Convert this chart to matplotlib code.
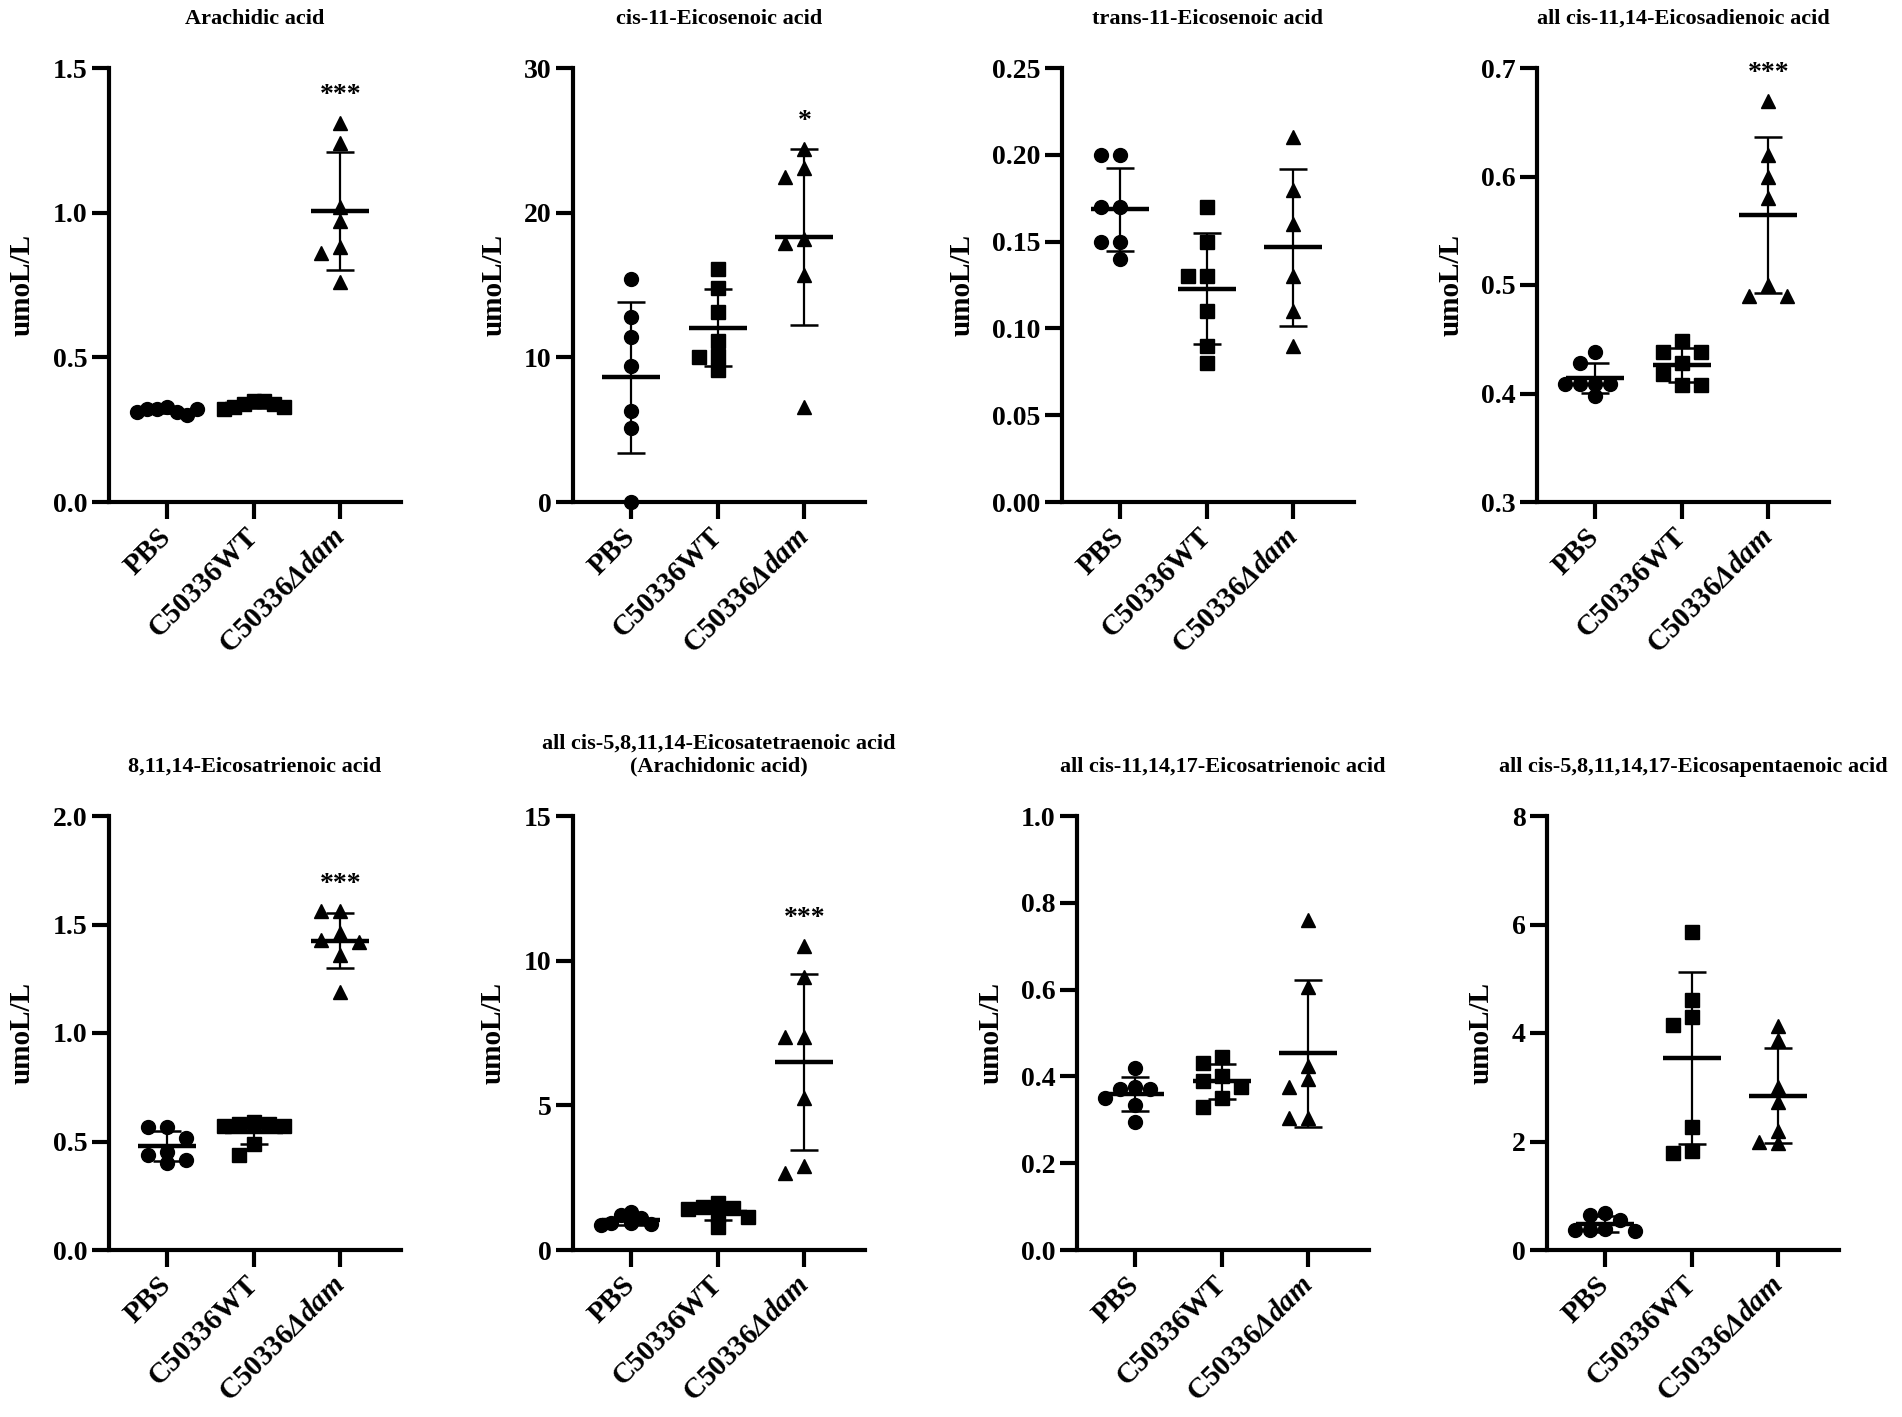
import numpy as np
import matplotlib
matplotlib.use('Agg')
import matplotlib.pyplot as plt
from matplotlib.ticker import FormatStrFormatter

plt.rcParams['font.family'] = ['Liberation Serif', 'DejaVu Serif']
plt.rcParams['font.weight'] = 'bold'
plt.rcParams['axes.labelweight'] = 'bold'
plt.rcParams['mathtext.fontset'] = 'custom'
plt.rcParams['mathtext.rm'] = 'Liberation Serif:bold'
plt.rcParams['mathtext.bfit'] = 'Liberation Serif:italic:bold'

# ── data (umol/L): (PBS, C50336WT, C50336Δdam) ──
groups = ['PBS', 'C50336WT', r'C50336$\mathbfit{Δdam}$']

arachidic = ([0.33, 0.32, 0.31, 0.32, 0.30, 0.31, 0.32],
             [0.35, 0.34, 0.35, 0.33, 0.34, 0.32, 0.33],
             [1.31, 1.24, 1.02, 0.97, 0.88, 0.86, 0.76])
eicosenoic_cis = ([15.4, 12.8, 11.4, 9.4, 6.3, 5.1, 0.0],
                  [16.1, 14.8, 13.1, 11.1, 10.1, 10.0, 9.15],
                  [24.4, 23.1, 22.5, 18.2, 17.9, 15.7, 6.6])
eicosenoic_trans = ([0.20, 0.20, 0.17, 0.17, 0.15, 0.15, 0.14],
                    [0.17, 0.15, 0.13, 0.13, 0.11, 0.09, 0.08],
                    [0.21, 0.18, 0.16, 0.13, 0.11, 0.09])
eicosadienoic = ([0.438, 0.428, 0.409, 0.409, 0.409, 0.409, 0.398],
                 [0.448, 0.438, 0.438, 0.428, 0.418, 0.408, 0.408],
                 [0.67, 0.62, 0.60, 0.58, 0.50, 0.49, 0.49])
eicosatrienoic_8 = ([0.565, 0.565, 0.515, 0.453, 0.438, 0.415, 0.402],
                    [0.59, 0.58, 0.58, 0.57, 0.57, 0.49, 0.44],
                    [1.56, 1.56, 1.46, 1.43, 1.42, 1.36, 1.19])
arachidonic = ([1.32, 1.2, 1.1, 0.95, 0.92, 0.9, 0.88],
               [1.61, 1.50, 1.45, 1.40, 1.20, 1.15, 0.81],
               [10.5, 9.45, 7.35, 7.35, 5.25, 2.9, 2.65])
eicosatrienoic_11 = ([0.42, 0.375, 0.37, 0.37, 0.35, 0.335, 0.295],
                     [0.445, 0.43, 0.40, 0.39, 0.375, 0.35, 0.33],
                     [0.76, 0.605, 0.425, 0.395, 0.375, 0.305, 0.305])
epa = ([0.68, 0.65, 0.55, 0.38, 0.37, 0.36, 0.35],
       [5.87, 4.61, 4.29, 4.15, 2.27, 1.83, 1.79],
       [4.13, 3.88, 3.0, 2.73, 2.2, 2.0, 1.97])

panels = [arachidic, eicosenoic_cis, eicosenoic_trans, eicosadienoic,
          eicosatrienoic_8, arachidonic, eicosatrienoic_11, epa]
titles = ['Arachidic acid',
          'cis-11-Eicosenoic acid',
          'trans-11-Eicosenoic acid',
          'all cis-11,14-Eicosadienoic acid',
          '8,11,14-Eicosatrienoic acid',
          'all cis-5,8,11,14-Eicosatetraenoic acid\n(Arachidonic acid)',
          'all cis-11,14,17-Eicosatrienoic acid',
          'all cis-5,8,11,14,17-Eicosapentaenoic acid']
stars = ['***', '*', '', '***', '***', '***', '', '']
y_lims = [(0, 1.5), (0, 30), (0, 0.25), (0.3, 0.7),
          (0, 2.0), (0, 15), (0, 1.0), (0, 8)]
y_steps = [0.5, 10, 0.05, 0.1, 0.5, 5, 0.2, 2]
y_fmts = ['%.1f', '%d', '%.2f', '%.1f', '%.1f', '%d', '%.1f', '%d']

markers = ['o', 's', '^']
marker_sizes = [10, 9.5, 10.5]

# axes placement in pixels (left edge of y spine)
W, H = 1902, 1417
lefts = [109, 573, 1062, 1537, 109, 573, 1077, 1547]
ax_w = 292
row_top = [68, 816]
ax_h = 434

fig = plt.figure(figsize=(W / 100, H / 100), dpi=100)


def swarm(vals, px_per_unit_y, px_per_unit_x, diam=11, step=19, max_px=30):
    # column scatter: shift points sideways when they overlap,
    # squeeze the spread if it gets wider than the column
    placed = []
    for v in vals:
        for k in [0, -1, 1, -2, 2, -3, 3]:
            dx = k * step
            ok = True
            for (px, pv) in placed:
                if abs(dx - px) < step * 0.9 and abs(v - pv) * px_per_unit_y < diam:
                    ok = False
                    break
            if ok:
                break
        placed.append((dx, v))
    offs = np.array([p[0] for p in placed], dtype=float)
    widest = np.abs(offs).max()
    if widest > max_px:
        offs *= max_px / widest
    return offs / px_per_unit_x


xlim = (0.33, 3.7)
for i, data in enumerate(panels):
    row = i // 4
    top = row_top[row]
    ax = fig.add_axes([lefts[i] / W, 1 - (top + ax_h) / H, ax_w / W, ax_h / H])
    lo, hi = y_lims[i]
    ppy = ax_h / (hi - lo)
    ppx = ax_w / (xlim[1] - xlim[0])

    for g, vals in enumerate(data):
        vals = np.array(vals)
        x = g + 1
        m = vals.mean()
        sd = vals.std(ddof=1)
        offs = swarm(vals, ppy, ppx)
        ax.plot(x + offs, vals, linestyle='none', marker=markers[g],
                ms=marker_sizes[g], color='black', zorder=3, clip_on=False)
        ax.hlines(m, x - 0.335, x + 0.335, color='black', lw=3.2, zorder=4)
        ax.errorbar(x, m, yerr=sd, fmt='none', ecolor='black', elinewidth=1.6,
                    capsize=10, capthick=1.8, zorder=4)

    if stars[i]:
        ax.annotate(stars[i], (3, max(data[2])), xytext=(0, 15),
                    textcoords='offset points', ha='center', va='baseline',
                    fontsize=20, annotation_clip=False)

    ax.set_xlim(*xlim)
    ax.set_ylim(lo, hi)
    ax.set_yticks(np.arange(lo, hi + y_steps[i] / 2, y_steps[i]))
    ax.yaxis.set_major_formatter(FormatStrFormatter(y_fmts[i]))
    ax.set_xticks([1, 2, 3])
    ax.set_xticklabels(groups, rotation=45, ha='right', va='center',
                       rotation_mode='anchor')
    ax.tick_params(axis='both', width=3, length=12, labelsize=20)
    ax.tick_params(axis='x', pad=10, labelsize=21)
    for s in ['top', 'right']:
        ax.spines[s].set_visible(False)
    for s in ['left', 'bottom']:
        ax.spines[s].set_linewidth(3)
    ax.set_ylabel('umoL/L', fontsize=21, fontweight='bold', labelpad=12)
    ax.set_title(titles[i], fontsize=16, fontweight='bold', pad=32)

fig.savefig('out.png', dpi=100)
